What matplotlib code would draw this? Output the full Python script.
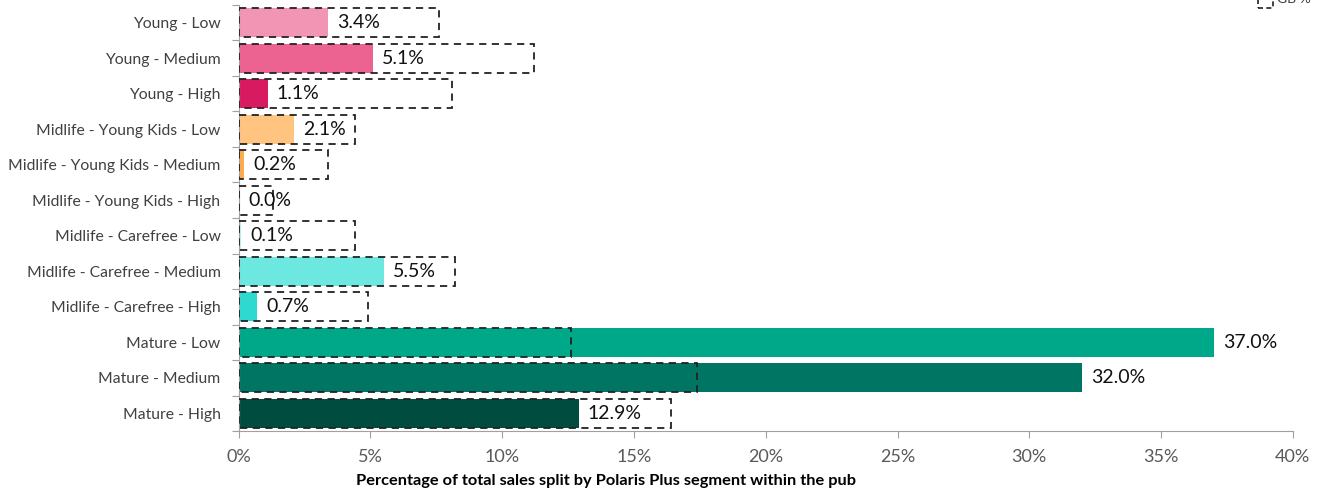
import numpy as np
import matplotlib.pyplot as plt
from matplotlib.patches import Rectangle

plt.rcParams['font.family'] = ['Lato', 'DejaVu Sans']

segments = ['Young - Low', 'Young - Medium', 'Young - High',
            'Midlife - Young Kids - Low', 'Midlife - Young Kids - Medium', 'Midlife - Young Kids - High',
            'Midlife - Carefree - Low', 'Midlife - Carefree - Medium', 'Midlife - Carefree - High',
            'Mature - Low', 'Mature - Medium', 'Mature - High']
pub_pct = [3.4, 5.1, 1.1, 2.1, 0.2, 0.0, 0.1, 5.5, 0.7, 37.0, 32.0, 12.9]
gb_pct = [7.6, 11.2, 8.1, 4.4, 3.4, 1.3, 4.4, 8.2, 4.9, 12.6, 17.4, 16.4]
colors = ['#F294B4', '#EC6290', '#D81B60',
          '#FFC580', '#FFAA4D', '#F08A00',
          '#B5F3EF', '#6CE8E0', '#2ED9D0',
          '#00A88A', '#007563', '#004D40']
xticks = [0, 5, 10, 15, 20, 25, 30, 35, 40]

fig = plt.figure(figsize=(13.26, 4.91), dpi=100)
ax = fig.add_axes([0.180, 0.122, 0.795, 0.868])

y = np.arange(len(segments))
h = 0.82
ax.barh(y, pub_pct, height=h, color=colors, zorder=2)
ax.barh(y, gb_pct, height=h, facecolor='none', edgecolor='#222222',
        linestyle=(0, (4, 3)), linewidth=1.3, zorder=3)

for yi, v in zip(y, pub_pct):
    ax.text(v + 0.35, yi, f'{v:.1f}%', va='center', ha='left', fontsize=14, color='#111111', zorder=4)

ax.set_ylim(len(segments) - 0.5, -0.5)
ax.set_xlim(0, 40)
ax.set_yticks(np.arange(len(segments) + 1) - 0.5, minor=False)
ax.set_yticklabels([])
ax.set_yticks(y, minor=True)
ax.set_yticklabels(segments, minor=True)
ax.tick_params(axis='y', which='minor', length=0, labelsize=11.3, labelcolor='#404040', pad=13)
ax.tick_params(axis='y', which='major', length=5, color='#a0a0a0')
ax.set_xticks(xticks)
ax.set_xticklabels([f'{t}%' for t in xticks])
ax.tick_params(axis='x', length=5, color='#a0a0a0', labelsize=13, labelcolor='#595959', pad=8)

for s in ['top', 'right']:
    ax.spines[s].set_visible(False)
for s in ['left', 'bottom']:
    ax.spines[s].set_color('#a0a0a0')

ax.set_xlabel('Percentage of total sales split by Polaris Plus segment within the pub',
              fontsize=11.8, fontweight='bold')
ax.xaxis.set_label_coords(0.348, -0.1)

# legend (clipped at top edge as in the original)
fig.patches.append(Rectangle((0.949, 0.984), 0.011, 0.03, transform=fig.transFigure,
                             facecolor='none', edgecolor='#222222', linestyle=(0, (3, 2)),
                             linewidth=1.2))
fig.text(0.963, 0.99, 'GB %', fontsize=10, color='#404040', va='bottom', ha='left')

fig.savefig('out.png', dpi=100)
